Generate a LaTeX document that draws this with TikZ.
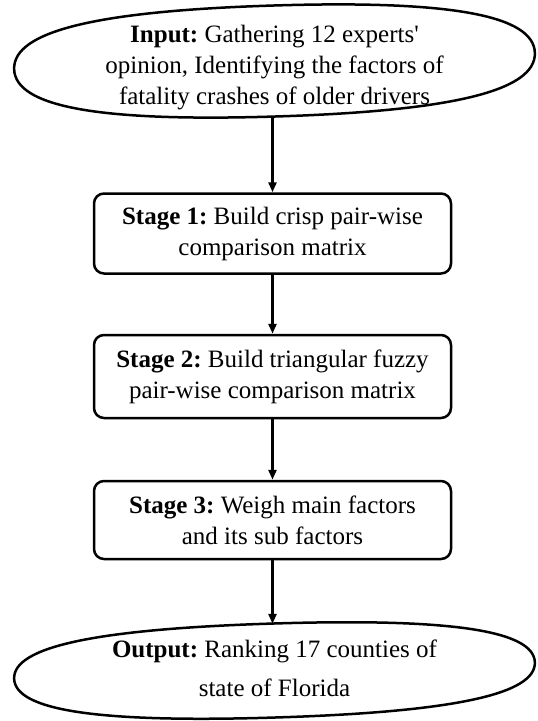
\documentclass[tikz,border=0pt]{standalone}
\usepackage{fontspec}
\setmainfont{Liberation Serif}
\usetikzlibrary{arrows.meta,shapes.geometric}
\frenchspacing

\tikzset{
  flowtext/.style={align=center, font=\fontsize{25}{31}\selectfont},
  stagebox/.style={flowtext, draw, line width=2.5pt, rounded corners=10pt,
    minimum width=357pt, minimum height=80pt, inner sep=0pt},
  endshape/.style={ellipse, minimum width=521pt, inner sep=0pt, rotate=1.8},
  flowarrow/.style={-{Triangle[width=8pt,length=10pt]}, line width=2.5pt},
}

% full oval outline round a node: center, half width, half height
\newcommand{\ovaloutline}[3]{%
  \draw[line width=2.5pt, shift={(#1)}, rotate=1.8]
    (-#2,0) .. controls (-#2,-0.68*#3) and (-0.68*#2,-#3) .. (0,-#3)
    .. controls (0.68*#2,-#3) and (#2,-0.68*#3) .. (#2,0)
    .. controls (#2,0.68*#3) and (0.68*#2,#3) .. (0,#3)
    .. controls (-0.68*#2,#3) and (-#2,0.68*#3) .. (-#2,0) -- cycle;}

\begin{document}
\begin{tikzpicture}[x=1pt, y=-1pt]
  % Canvas of the figure
  \useasboundingbox (0,0) rectangle (538,721);

  % Input oval
  \node[endshape, minimum height=110pt] (inp) at (274.5,61) {};
  \ovaloutline{inp.center}{260.5}{55.5}
  \node[flowtext] (inptext) at (274.5,68)
    {\textbf{Input:} Gathering 12 experts\textquotesingle\\
     opinion, Identifying the factors of\\
     fatality crashes of older drivers};

  % The three stages
  \node[stagebox] (s1) at (272.5,233.5)
    {\textbf{Stage 1:} Build crisp pair-wise\\ comparison matrix};
  \node[stagebox, minimum height=83pt] (s2) at (272.5,376.5)
    {\textbf{Stage 2:} Build triangular fuzzy\\ pair-wise comparison matrix};
  \node[stagebox, minimum height=78pt] (s3) at (272.5,520)
    {\textbf{Stage 3:} Weigh main factors\\ and its sub factors};

  % Output oval
  \node[endshape, minimum height=93pt] (out) at (274.5,670.5) {};
  \ovaloutline{out.center}{260.5}{47}
  \node[flowtext] (outtext) at (274.5,668)
    {\textbf{Output:} Ranking 17 counties of\\[8pt] state of Florida};

  % Connectors
  \draw[flowarrow] (s1.north |- inp.south) -- (s1.north);
  \draw[flowarrow] (s1) -- (s2);
  \draw[flowarrow] (s2) -- (s3);
  \draw[flowarrow] (s3.south) -- (s3.south |- out.north);
\end{tikzpicture}
\end{document}
